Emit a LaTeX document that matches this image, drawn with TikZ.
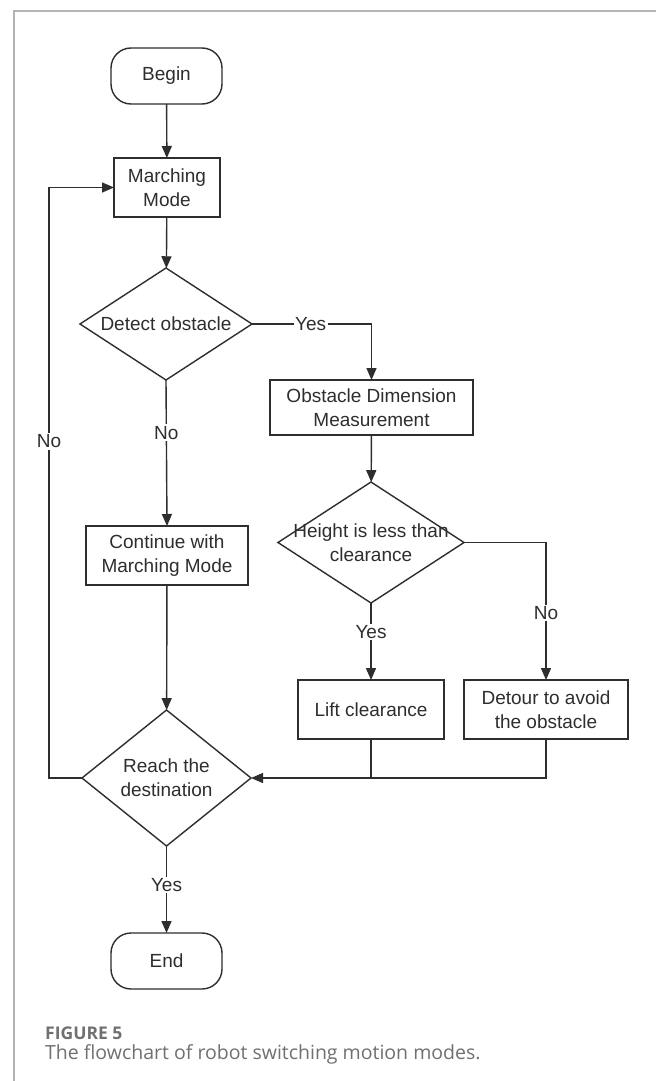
\documentclass[tikz,border=0pt]{standalone}
\usepackage{fontspec}
\setmainfont{Liberation Sans}
\newfontfamily\capfont{Open Sans}
\usetikzlibrary{shapes.geometric,arrows.meta}
\definecolor{ln}{HTML}{2E2E2E}
\definecolor{fr}{HTML}{B4B4B4}
\definecolor{capc}{HTML}{707070}
\begin{document}
\begin{tikzpicture}[x=1pt,y=-1pt,
  every node/.style={font=\fontsize{19}{24}\selectfont, text=ln, align=center},
  box/.style={draw=ln, line width=1.4pt, rectangle, inner sep=0pt, outer sep=0pt},
  term/.style={box, rounded corners=20pt},
  dia/.style={draw=ln, line width=1.4pt, diamond, inner sep=0pt, outer sep=0pt},
  arr/.style={draw=ln, line width=1.4pt, -{Triangle[length=12pt,width=10pt]}},
  con/.style={draw=ln, line width=1.4pt},
  lbl/.style={fill=white, inner sep=1.5pt}]
\useasboundingbox (0,0) rectangle (656,1081);
\fill[white] (0,0) rectangle (656,1081);
\draw[fr, line width=1.2pt] (14,1081) -- (14,11) -- (656,11);

% nodes
\node[term, minimum width=111pt, minimum height=56pt] (begin) at (166.5,76) {};
\node (begintxt) at (begin) {Begin};
\node[box, minimum width=106pt, minimum height=59pt] (march) at (167,187.5) {Marching\\Mode};
\node[dia, minimum width=172pt, minimum height=112pt] (d1) at (166,324) {};
\node (d1txt) at (d1) {Detect obstacle};
\node[box, minimum width=203pt, minimum height=55pt] (obst) at (371.5,407.5) {Obstacle Dimension\\Measurement};
\node[dia, minimum width=186pt, minimum height=121pt] (d2) at (371,542.5) {};
\node (d2txt) at (d2) {Height is less than\\clearance};
\node[box, minimum width=162pt, minimum height=59pt] (cont) at (167,555.5) {Continue with\\Marching Mode};
\node[box, minimum width=146pt, minimum height=59pt] (lift) at (371,709.5) {Lift clearance};
\node[box, minimum width=164pt, minimum height=59pt] (detour) at (546,709.5) {Detour to avoid\\the obstacle};
\node[dia, minimum width=169pt, minimum height=136pt] (d3) at (166.5,778) {};
\node (d3txt) at (d3) {Reach the\\destination};
\node[term, minimum width=111pt, minimum height=56pt] (end) at (166.5,961) {};
\node (endtxt) at (end) {End};
\coordinate (lx) at (49,0);

% connectors
\draw[arr] (begin) -- (march);
\draw[arr] (march) -- (d1);
\draw[arr] (d1.east) -- node[lbl, pos=0.49]{Yes} (d1.east -| obst.north) -- (obst.north);
\draw[arr] (obst) -- (d2);
\draw[arr] (d2.south) -- node[lbl, pos=0.38]{Yes} (lift.north);
\draw[arr] (d2.east) -- (d2.east -| detour.north) -- node[lbl, pos=0.51]{No} (detour.north);
\draw[arr] (d1.south) -- node[lbl, pos=0.36]{No} (cont.north);
\draw[arr] (cont) -- (d3);
\draw[con] (lift.south) -- (lift.south |- d3.east);
\draw[arr] (detour.south) |- (d3.east);
\draw[arr] (d3.west) -- (d3.west -| lx) -- node[lbl, pos=0.57]{No} (march.west -| lx) -- (march.west);
\draw[arr] (d3.south) -- node[lbl, pos=0.45]{Yes} (end.north);

% caption
\node[anchor=base west, inner sep=0pt, text=capc, font=\capfont\bfseries\fontsize{17.5}{20}\selectfont] (fig) at (45,1039) {FIGURE 5};
\node[anchor=base west, inner sep=0pt, text=capc, font=\capfont\fontsize{19.5}{22}\selectfont] (cap) at (45,1059) {The flowchart of robot switching motion modes.};
\end{tikzpicture}
\end{document}
